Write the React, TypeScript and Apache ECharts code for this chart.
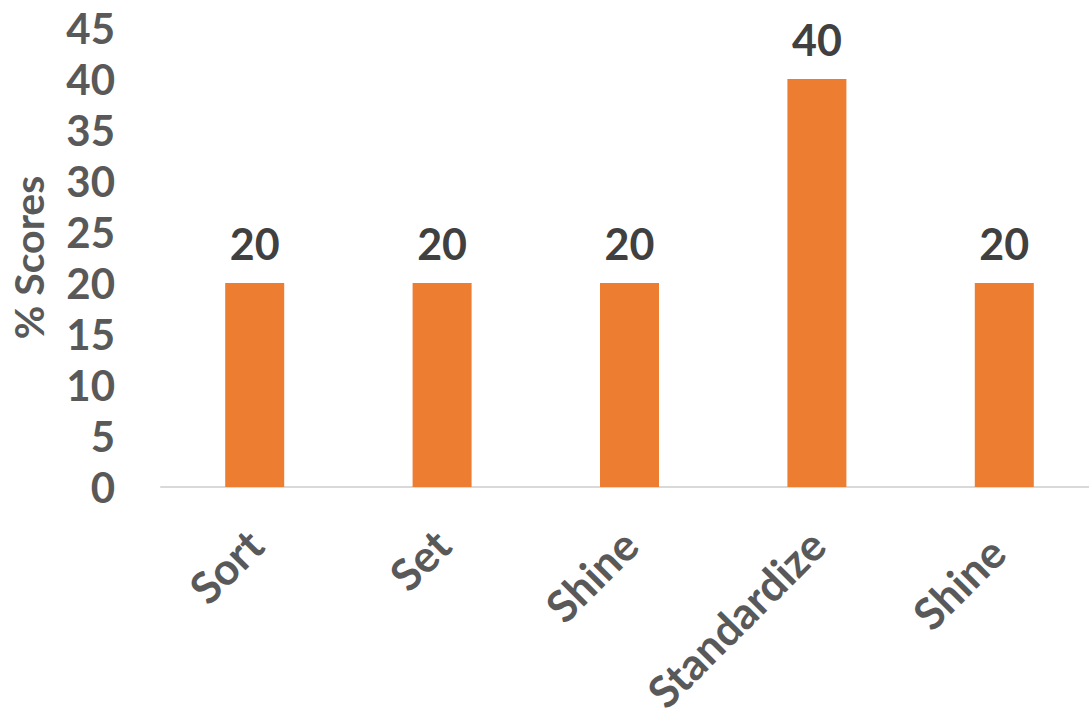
import React, { useEffect, useRef } from "react";
import * as echarts from "echarts";

const categories = ["Sort", "Set", "Shine", "Standardize", "Shine "];
const scores = [20, 20, 20, 40, 20];
const yTicks = { min: 0, max: 45, interval: 5 };
const yTitle = "% Scores";

export default function App() {
  const ref = useRef<HTMLDivElement>(null);
  useEffect(() => {
    if (!ref.current) return;
    const chart = echarts.init(ref.current, null, { renderer: "svg" });
    const font = "Lato";
    chart.setOption({
      animation: false,
      grid: { left: 161, right: -9, top: 28, bottom: 230, outerBoundsMode: "none", containLabel: false },
      xAxis: {
        type: "category",
        data: categories,
        axisLine: { lineStyle: { color: "#D9D9D9", width: 2 } },
        axisTick: { show: false },
        axisLabel: {
          rotate: 45,
          interval: 0,
          margin: 50,
          color: "#595959",
          fontFamily: font,
          fontWeight: "bold",
          fontSize: 44,
        },
      },
      yAxis: {
        type: "value",
        min: yTicks.min,
        max: yTicks.max,
        interval: yTicks.interval,
        splitLine: { show: false },
        axisLine: { show: false },
        axisTick: { show: false },
        name: yTitle,
        nameLocation: "middle",
        nameGap: 112,
        nameRotate: 90,
        nameTextStyle: {
          color: "#595959",
          fontFamily: font,
          fontWeight: "bold",
          fontSize: 41,
        },
        axisLabel: {
          margin: 46,
          color: "#595959",
          fontFamily: font,
          fontWeight: "bold",
          fontSize: 42,
        },
      },
      series: [
        {
          type: "bar",
          data: scores,
          barWidth: 59,
          itemStyle: { color: "#ED7D31" },
          label: {
            show: true,
            position: "top",
            distance: 18,
            color: "#404040",
            fontFamily: font,
            fontWeight: "bold",
            fontSize: 43,
          },
        },
      ],
    });
    return () => chart.dispose();
  }, []);
  return (
    <div
      ref={ref}
      style={{ position: "absolute", left: 0, top: 0, width: 1089, height: 717, background: "#fff" }}
    />
  );
}
